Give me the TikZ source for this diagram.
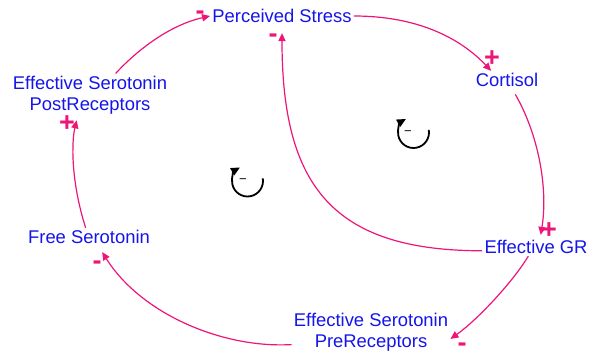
\documentclass[tikz,border=0pt]{standalone}
\usepackage{fontspec}
\setmainfont{Liberation Sans}
\usetikzlibrary{arrows.meta}

\definecolor{varblue}{RGB}{20,20,235}
\definecolor{linkpink}{RGB}{238,20,120}

\begin{document}
\begin{tikzpicture}[x=0.5pt,y=-0.5pt,
  var/.style={text=varblue,align=center,inner sep=1pt,font=\fontsize{9.2}{10.5}\selectfont},
  link/.style={linkpink,line width=0.6pt,-{Triangle[length=4pt,width=3.6pt]}},
  sign/.style={text=linkpink,inner sep=0pt,font=\fontsize{13.5}{13.5}\selectfont\bfseries},
  loopsign/.style={inner sep=0pt,font=\fontsize{6.5}{7}\selectfont},
  looparrow/.style={line width=0.9pt,-{Triangle[length=4.5pt,width=4pt]}}]
\useasboundingbox (0,0) rectangle (589,353);
% variables
\node[var] (stress) at (282,16) {Perceived Stress};
\node[var] (cortisol) at (507,80) {Cortisol};
\node[var] (gr) at (536,247) {Effective GR};
\node[var] (pre) at (371,332) {Effective Serotonin\\PreReceptors};
\node[var] (free) at (89,237) {Free Serotonin};
\node[var] (post) at (90,95) {Effective Serotonin\\PostReceptors};
% causal links
\draw[link] (stress.east) .. controls +(60,0) and +(-33,-35) .. (cortisol.150);
\draw[link,shorten <=3pt,shorten >=1.5pt] (cortisol.-60) .. controls +(26,45) and +(8,-50) .. (gr.65);
\draw[link] (gr.-130) .. controls +(-15,25) and +(28,-20) .. (pre.-5);
\draw[link,shorten >=3.5pt] (pre.-171) .. controls +(-70,4) and +(42,67) .. (free.-44);
\draw[link,shorten >=2pt] (free.110) .. controls +(-15,-47) and +(-6,25) .. (post.-120);
\draw[link] (post.40) .. controls +(22,-24) and +(-40,9) .. (stress.west);
\draw[link,shorten >=4pt] (gr.-176) .. controls +(-150,0) and +(0,160) .. (stress.south);
% polarities
\node[sign] (sg1) at (492,59) {+};
\node[sign] (sg2) at (549,231) {+};
\node[sign] (sg3) at (462,347) {-};
\node[sign] (sg4) at (97,265) {-};
\node[sign] (sg5) at (67,124) {+};
\node[sign] (sg6) at (200,15) {-};
\node[sign] (sg7) at (273,38) {-};
% loop markers
\coordinate (loopA) at (413.5,132.5);
\coordinate (loopB) at (247.5,181);
\draw[looparrow] (loopA) ++(10:7.75pt) arc[start angle=10,end angle=-241,radius=7.75pt];
\draw[looparrow] (loopB) ++(10:7.75pt) arc[start angle=10,end angle=-241,radius=7.75pt];
\node[loopsign] (mA) at (408,133) {−};
\node[loopsign] (mB) at (243,181) {−};
\end{tikzpicture}
\end{document}
